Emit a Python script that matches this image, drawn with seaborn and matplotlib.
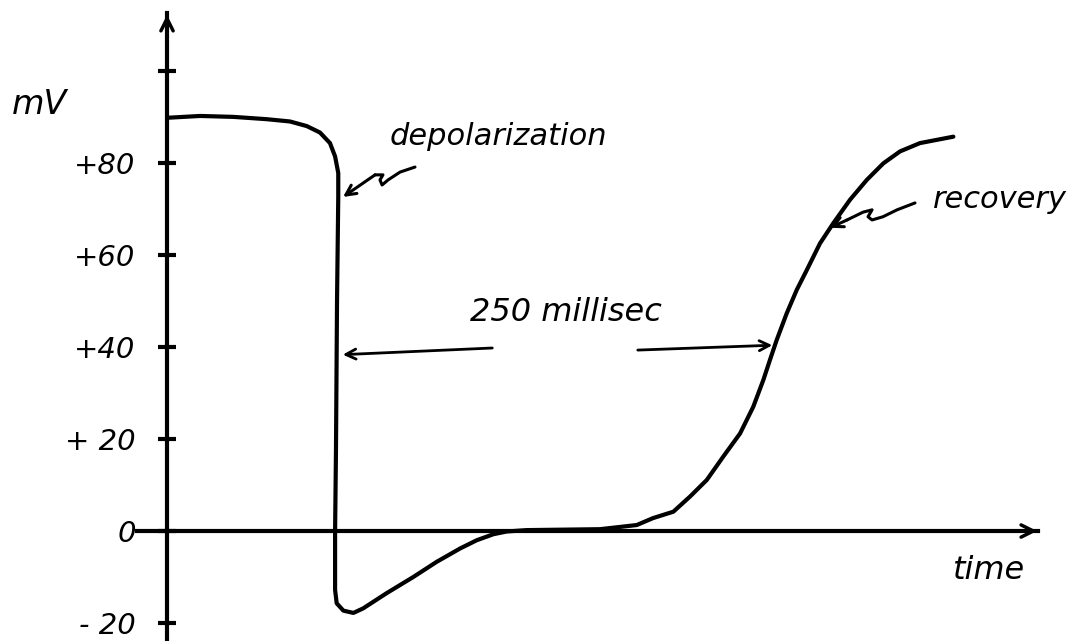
import matplotlib
matplotlib.use("Agg")
import matplotlib.pyplot as plt
import seaborn as sns
import pandas as pd

# ---- data: action potential (time in ms, potential in mV) ----
time_ms = [0, 18.8, 37.7, 56.6, 69.9, 79.4, 86.9, 92.6, 95.5, 97.3, 97.3,
           96.6, 96.0, 95.5, 95.5, 96.4, 100.2, 105.9, 111.5, 124.8, 139.9,
           153.2, 166.5, 176.0, 185.4, 193.0, 204.4, 246.0, 266.9, 276.1, 287.7,
           297.2, 306.7, 316.1, 325.6, 333.1, 338.8, 342.6, 346.4, 352.1, 357.8,
           363.5, 371.0, 378.6, 388.1, 397.6, 407.0, 416.5, 427.8, 446.8]
potential_mv = [89.8, 90.2, 90.0, 89.5, 89.0, 88.0, 86.6, 84.3, 81.4, 77.8, 72.7,
                50.2, 17.6, 0.0, -12.8, -15.7, -17.3, -17.8, -16.8, -13.5, -10.0,
                -6.7, -3.8, -2.0, -0.7, -0.1, 0.2, 0.4, 1.3, 2.8, 4.2,
                7.5, 11.1, 16.2, 21.2, 27.0, 32.8, 37.2, 41.5, 47.3, 52.4,
                56.7, 62.5, 66.9, 72.0, 76.3, 79.9, 82.5, 84.3, 85.7]

y_ticks = [-20, 0, 20, 40, 60, 80, 100]
y_tick_labels = ["- 20", "0", "+ 20", "+40", "+60", "+80", ""]

# annotation squiggles (time, mV)
depol_sq_t = [140.9, 132.4, 125.6, 122.2, 121.0, 122.7, 118.2]
depol_sq_v = [79.1, 78.0, 76.3, 75.2, 76.3, 77.4, 77.4]
depol_tip = (100.0, 72.6)
recov_sq_t = [425.0, 414.8, 406.8, 400.6, 398.3, 400.6, 395.5, 386.4]
recov_sq_v = [71.3, 69.8, 68.3, 67.6, 68.3, 69.8, 69.3, 67.6]
recov_tip = (376.7, 65.9)

sns.set_theme(style="white")
plt.rcParams["font.family"] = ["DejaVu Sans"]
plt.rcParams["text.color"] = "black"

fig = plt.figure(figsize=(10.8, 6.41), dpi=100)
ax = fig.add_axes([0, 0, 1, 1])
ax.set_facecolor("white")

df = pd.DataFrame({"t": time_ms, "v": potential_mv})
sns.lineplot(data=df, x="t", y="v", sort=False, color="black", lw=3.0, ax=ax,
             estimator=None, solid_joinstyle="round", solid_capstyle="round")

ax.set_xlim(-94.9, 518.75)
ax.set_ylim(-23.9, 115.4)

# axes through origin
for s in ["top", "right"]:
    ax.spines[s].set_visible(False)
ax.spines["left"].set_position(("data", 0))
ax.spines["bottom"].set_position(("data", 0))
ax.spines["left"].set_bounds(-23.9, 112.5)
ax.spines["bottom"].set_bounds(-17, 495)
for s in ["left", "bottom"]:
    ax.spines[s].set_linewidth(3.0)
    ax.spines[s].set_color("black")

ax.set_xticks([])
ax.set_yticks(y_ticks)
ax.set_yticklabels(y_tick_labels, fontsize=21, fontstyle="italic", color="black")
ax.tick_params(axis="y", direction="inout", length=13, width=3, pad=16,
               colors="black", left=True)
ax.set_xlabel("")
ax.set_ylabel("")

# axis arrowheads
ax.annotate("", xy=(0, 112.8), xytext=(0, 104),
            arrowprops=dict(arrowstyle="->", lw=2.5, color="black", mutation_scale=22))
ax.annotate("", xy=(496, 0), xytext=(480, 0),
            arrowprops=dict(arrowstyle="->", lw=2.5, color="black", mutation_scale=22))

# texts
txt = dict(fontstyle="italic", va="center", ha="left", color="black")
ax.text(-88, 92.6, "mV", fontsize=24, **txt)
ax.text(446.6, -8.5, "time", fontsize=23, **txt)
ax.text(126.7, 85.7, "depolarization", fontsize=22, **txt)
ax.text(172.2, 47.4, "250 millisec", fontsize=23, **txt)
ax.text(435.2, 72.0, "recovery", fontsize=22, **txt)

# 250 ms interval arrows
ax.annotate("", xy=(98.3, 38.3), xytext=(186.4, 39.8),
            arrowprops=dict(arrowstyle="->", lw=2.0, color="black", mutation_scale=18))
ax.annotate("", xy=(345.5, 40.4), xytext=(265.9, 39.3),
            arrowprops=dict(arrowstyle="->", lw=2.0, color="black", mutation_scale=18))

# squiggle pointers
ax.plot(depol_sq_t, depol_sq_v, color="black", lw=2.2, solid_capstyle="round",
        solid_joinstyle="round")
ax.annotate("", xy=depol_tip, xytext=(depol_sq_t[-1], depol_sq_v[-1]),
            arrowprops=dict(arrowstyle="->", lw=2.2, color="black", mutation_scale=18,
                            shrinkA=0, shrinkB=0))
ax.plot(recov_sq_t, recov_sq_v, color="black", lw=2.2, solid_capstyle="round",
        solid_joinstyle="round")
ax.annotate("", xy=recov_tip, xytext=(recov_sq_t[-1], recov_sq_v[-1]),
            arrowprops=dict(arrowstyle="->", lw=2.2, color="black", mutation_scale=18,
                            shrinkA=0, shrinkB=0))

fig.savefig("out.png", dpi=100, facecolor="white")
